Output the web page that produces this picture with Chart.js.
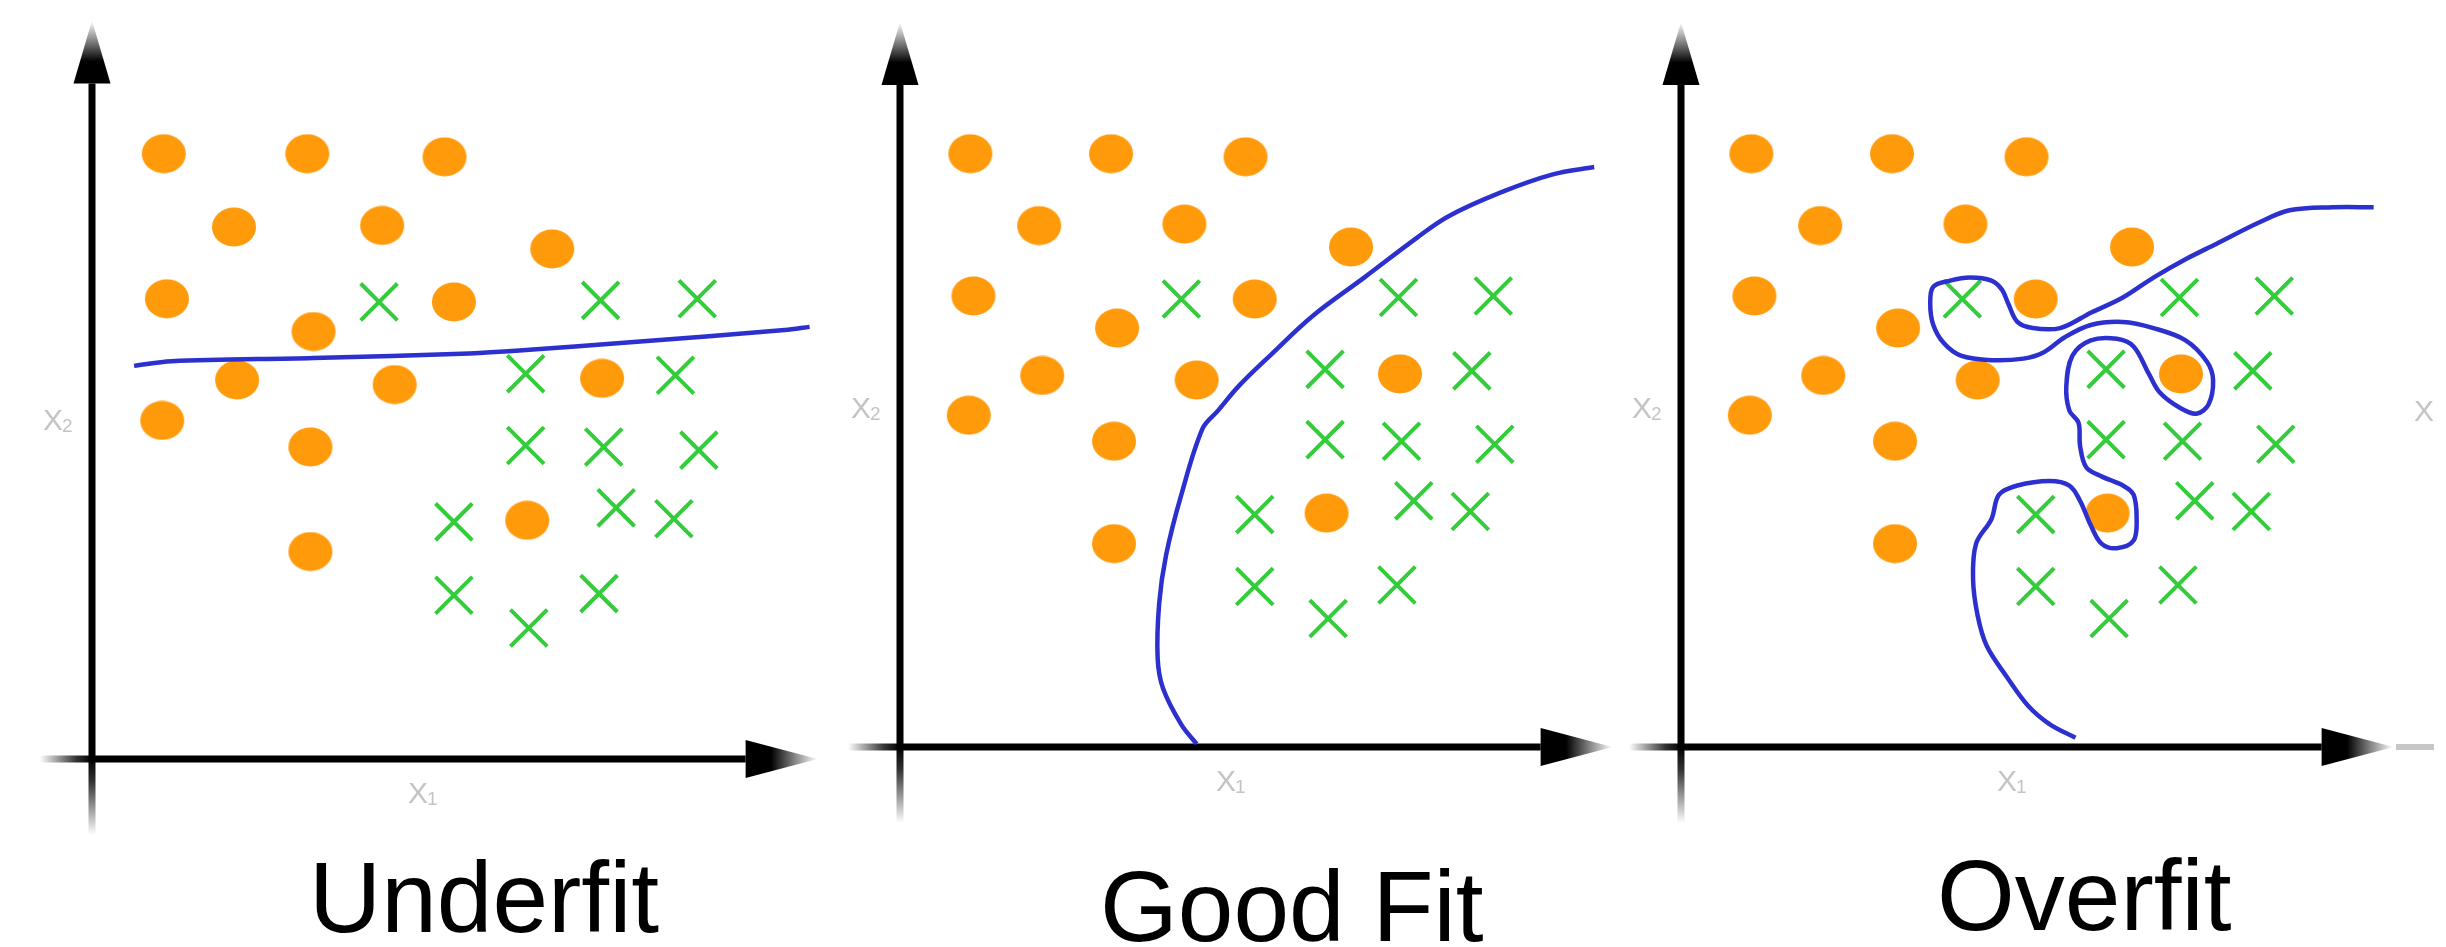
<!DOCTYPE html>
<html>
  <head>
    <meta charset="utf-8">
    <title>Underfit / Good Fit / Overfit</title>
    <script src="https://cdn.jsdelivr.net/npm/chart.js@4.4.1/dist/chart.umd.min.js"></script>
    <style>
      html, body { margin: 0; padding: 0; background: #fff; overflow: hidden; }
      #wrap { position: relative; width: 2446px; height: 947px; }
      #fits { position: absolute; left: 0; top: 0; }
      .caption { position: absolute; font-family: "Liberation Sans", Arial, sans-serif; font-size: 100px; line-height: 100px; color: #000; white-space: nowrap; }
    </style>
  </head>
  <body>
    <div id="wrap">
      <canvas id="fits" width="2446" height="947"></canvas>
      <div class="caption" style="left:309px; top:847px;">Underfit</div>
      <div class="caption" style="left:1100px; top:856px;">Good Fit</div>
      <div class="caption" style="left:1937px; top:845px;">Overfit</div>
    </div>
    <script>
      // same two classes in all three panels (x1, x2 in axis units)
      var orangeX = [46, 138, 226, 91, 186, 295, 48, 142, 232, 93, 194, 327, 45, 140, 140, 279];
      var orangeY = [388, 388, 386, 341, 342, 327, 295, 274, 293, 243, 240, 244, 217, 200, 133, 153];
      var greenX  = [184, 326, 388, 278, 374, 278, 328, 389, 232, 336, 373, 232, 280, 325];
      var greenY  = [293, 294, 295, 247, 246, 201, 200, 198, 152, 161, 154, 105, 84, 106];

      // decision boundaries
      var underX = [27, 51, 142, 242, 276, 343, 444, 460];
      var underY = [252, 255, 257, 260, 262, 267, 275, 277];
      var goodX  = [194, 184, 172, 168.5, 169.5, 174, 184, 198, 208, 221.5, 242, 269.5, 304, 338, 358.5, 393, 427, 454];
      var goodY  = [2, 14.6, 38.4, 58.2, 93.8, 125.4, 165, 208.5, 220, 236, 256, 281.6, 307.3, 333, 347, 362.7, 374.5, 379.3];
      var overX  = [453, 426, 398, 378, 350, 330, 309, 289, 268, 248, 230, 220, 214, 210, 203, 189, 176, 165, 163, 165,
                    172, 183, 203, 224, 237, 251, 268, 289, 309, 330, 344, 348, 345, 337, 326, 313, 306, 296, 285, 268,
                    256, 252, 254, 260, 261, 265, 275, 289, 296, 298, 296, 285, 275, 268, 261, 254, 241, 220, 208, 203,
                    193, 191, 194, 200, 213, 227, 241, 258];
      var overY  = [353, 353, 351, 343, 329, 319, 307, 294, 284, 274, 274, 278, 290, 299, 305, 307, 305, 301, 290, 276,
                    264, 256, 253, 254, 258, 268, 276, 278, 274, 266, 252, 240, 224, 218, 222, 232, 244, 262, 267, 266,
                    256, 236, 220, 212, 197, 183, 177, 171, 165, 149, 135, 130, 133, 145, 161, 171, 174, 171, 165, 149,
                    133, 110, 86, 66, 46, 27, 15, 6];

      var panelNames = ['Underfit', 'Good Fit', 'Overfit'];
      var boundaries = [[underX, underY], [goodX, goodY], [overX, overY]];

      // where each panel's origin sits on the page and how many px one unit is
      var W = 2446, H = 947;
      var layout = [
        {ox: 92,   oy: 759, unit: 1.56},
        {ox: 900,  oy: 747, unit: 1.529},
        {ox: 1681, oy: 747, unit: 1.529}
      ];

      var ORANGE = '#ff9a0a', GREEN = '#33cc3a', BLUE = '#2c30cf';

      // orange blob used as point style
      var dot = document.createElement('canvas');
      dot.width = 46; dot.height = 40;
      var dctx = dot.getContext('2d');
      dctx.fillStyle = ORANGE;
      dctx.beginPath();
      dctx.ellipse(23, 20, 22, 19.5, 0, 0, Math.PI * 2);
      dctx.fill();

      function pts(xs, ys) {
        return xs.map(function(x, i) { return {x: x, y: ys[i]}; });
      }

      // scale limits so that each origin lands on its page position,
      // whatever box chart.js ends up giving the chart area
      function fitScales(scales, area) {
        layout.forEach(function(l, i) {
          var xs = scales['x' + (i + 1)], ys = scales['y' + (i + 1)];
          xs.min = (area.left - l.ox) / l.unit;
          xs.max = (area.right - l.ox) / l.unit;
          ys.min = (l.oy - area.bottom) / l.unit;
          ys.max = (l.oy - area.top) / l.unit;
        });
      }

      var scales = {};
      var datasets = [];
      layout.forEach(function(l, i) {
        var xid = 'x' + (i + 1), yid = 'y' + (i + 1);
        scales[xid] = {type: 'linear', axis: 'x', display: false};
        scales[yid] = {type: 'linear', axis: 'y', display: false};

        datasets.push({
          label: panelNames[i] + ' boundary',
          data: pts(boundaries[i][0], boundaries[i][1]),
          xAxisID: xid, yAxisID: yid,
          showLine: true, fill: false,
          borderColor: BLUE, borderWidth: 4.5,
          tension: 0.35, pointRadius: 0, order: 0
        });
        datasets.push({
          label: 'class o',
          data: pts(orangeX, orangeY),
          xAxisID: xid, yAxisID: yid,
          pointStyle: dot, pointRadius: 20, order: 1
        });
        datasets.push({
          label: 'class x',
          data: pts(greenX, greenY),
          xAxisID: xid, yAxisID: yid,
          pointStyle: 'crossRot', pointRadius: 26,
          borderColor: GREEN, pointBorderColor: GREEN,
          borderWidth: 4, pointBorderWidth: 4, order: 1
        });
      });
      fitScales(scales, {left: 0, right: W, top: 0, bottom: H});

      function arrowHead(ctx, bx, by, dx, dy, len, half) {
        var tx = bx + dx * len, ty = by + dy * len;
        var g = ctx.createLinearGradient(bx, by, tx, ty);
        g.addColorStop(0, '#000');
        g.addColorStop(0.35, '#000');
        g.addColorStop(0.7, 'rgba(0,0,0,0.45)');
        g.addColorStop(1, 'rgba(0,0,0,0)');
        ctx.fillStyle = g;
        ctx.beginPath();
        ctx.moveTo(bx - dy * half, by + dx * half);
        ctx.lineTo(bx + dy * half, by - dx * half);
        ctx.lineTo(tx, ty);
        ctx.closePath();
        ctx.fill();
      }

      function fadeLine(ctx, x0, y0, x1, y1) {
        var g = ctx.createLinearGradient(x0, y0, x1, y1);
        g.addColorStop(0, '#000');
        g.addColorStop(0.3, 'rgba(0,0,0,0.8)');
        g.addColorStop(1, 'rgba(0,0,0,0)');
        ctx.strokeStyle = g;
        ctx.beginPath(); ctx.moveTo(x0, y0); ctx.lineTo(x1, y1); ctx.stroke();
      }

      function axisLabel(ctx, x, y, sub) {
        ctx.fillStyle = '#c4c4c4';
        ctx.textBaseline = 'alphabetic';
        ctx.textAlign = 'left';
        ctx.font = '30px "Liberation Sans", Arial, sans-serif';
        ctx.fillText('X', x, y);
        var w = ctx.measureText('X').width;
        if (sub) {
          ctx.font = '19px "Liberation Sans", Arial, sans-serif';
          ctx.fillText(sub, x + w - 1, y + 2);
        }
      }

      var handAxes = {
        id: 'handAxes',
        beforeDatasetsDraw: function(chart) {
          var ctx = chart.ctx;
          ctx.save();
          for (var i = 0; i < 3; i++) {
            var xs = chart.scales['x' + (i + 1)], ys = chart.scales['y' + (i + 1)];
            var ox = xs.getPixelForValue(0), oy = ys.getPixelForValue(0);
            var xEnd = xs.getPixelForValue(419), yEnd = ys.getPixelForValue(433);
            ctx.lineWidth = 7;
            ctx.strokeStyle = '#000';
            ctx.beginPath(); ctx.moveTo(ox, oy); ctx.lineTo(ox, yEnd); ctx.stroke();
            ctx.beginPath(); ctx.moveTo(ox, oy); ctx.lineTo(xEnd, oy); ctx.stroke();
            fadeLine(ctx, ox, oy, ox - 52, oy);
            fadeLine(ctx, ox, oy, ox, oy + 76);
            arrowHead(ctx, ox, yEnd, 0, -1, 63, 18.5);
            arrowHead(ctx, xEnd, oy, 1, 0, 72, 19);

            axisLabel(ctx, ox - 49, oy - 329, '2');
            axisLabel(ctx, ox + 316, oy + 44, '1');
          }
          // bits of the next picture that stick in at the right edge
          var oy3 = chart.scales.y3.getPixelForValue(0);
          ctx.strokeStyle = 'rgba(0,0,0,0.22)';
          ctx.lineWidth = 6;
          ctx.beginPath(); ctx.moveTo(2396, oy3); ctx.lineTo(2434, oy3); ctx.stroke();
          axisLabel(ctx, 2414, oy3 - 326, '');
          ctx.restore();
        }
      };

      var chart = new Chart(document.getElementById('fits'), {
        type: 'scatter',
        data: {datasets: datasets},
        options: {
          responsive: false,
          animation: false,
          events: [],
          layout: {padding: 0},
          plugins: {legend: {display: false}, tooltip: {enabled: false}},
          scales: scales
        },
        plugins: [handAxes]
      });
      // chart.js keeps room for the markers at the edges; map around that box
      fitScales(chart.options.scales, chart.chartArea);
      chart.update();
    </script>
  </body>
</html>
